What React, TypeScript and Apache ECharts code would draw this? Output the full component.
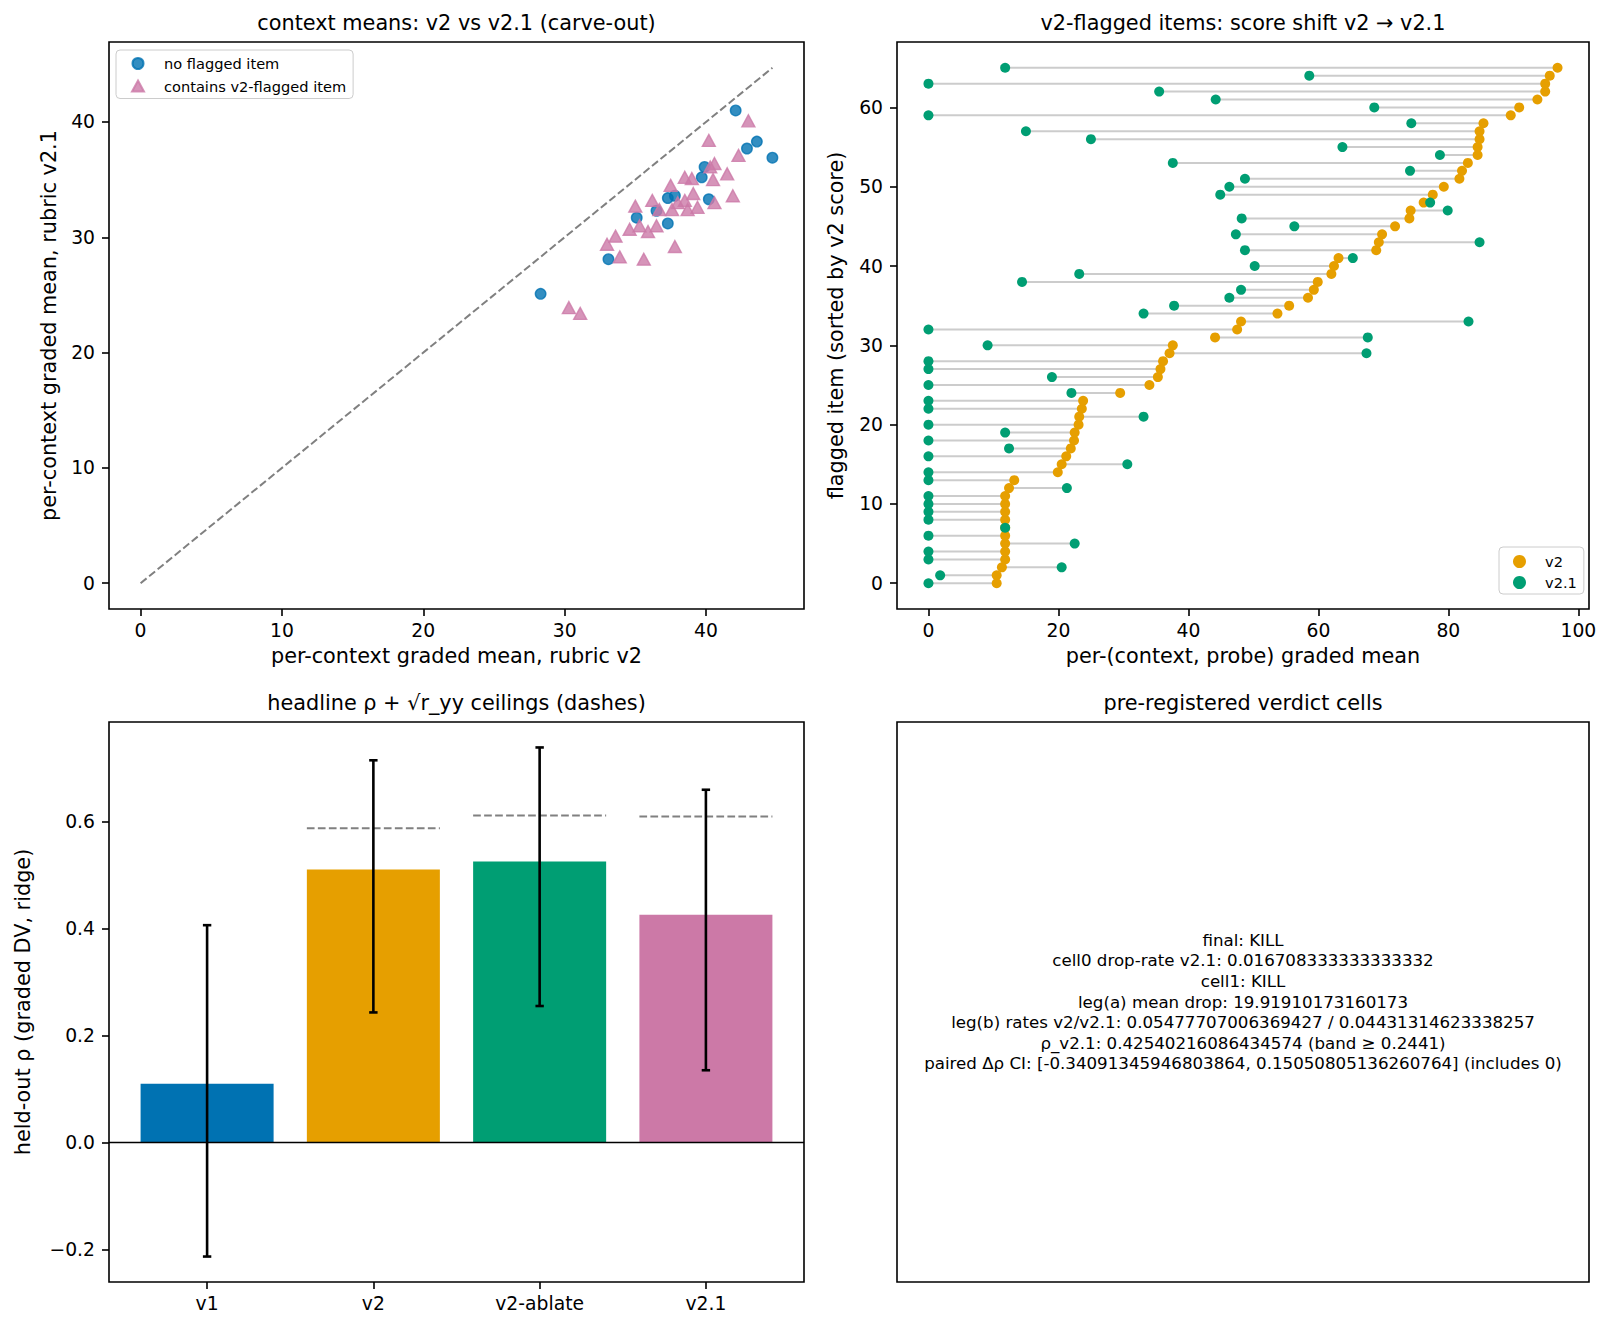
import React, { useEffect, useRef } from 'react';
import * as echarts from 'echarts';

const FONT = 'DejaVu Sans';
const BLUE = '#0072B2';
const ORANGE = '#E69F00';
const GREEN = '#009E73';
const PINK = '#CC79A7';

// context means: [rubric v2, rubric v2.1]
const noFlaggedPairs: number[][] = [
  [42.1, 41.0], [43.6, 38.3], [42.9, 37.7], [44.7, 36.9], [39.9, 36.1],
  [39.7, 35.2], [37.3, 33.4], [37.8, 33.6], [40.2, 33.3], [36.5, 32.3],
  [35.1, 31.7], [37.3, 31.2], [33.1, 28.1], [28.3, 25.1],
];
const flaggedPairs: number[][] = [
  [43.0, 40.1], [40.2, 38.4], [40.6, 36.4], [40.3, 36.1], [42.3, 37.1],
  [41.5, 35.5], [40.5, 35.0], [38.5, 35.2], [39.0, 35.1], [37.5, 34.5],
  [39.1, 33.8], [41.9, 33.6], [36.2, 33.2], [35.0, 32.7], [38.5, 33.2],
  [38.0, 33.0], [40.6, 33.0], [39.4, 32.6], [38.7, 32.4], [37.6, 32.4],
  [36.7, 32.4], [34.6, 30.7], [35.3, 31.0], [36.5, 31.0], [35.9, 30.5],
  [33.6, 30.1], [33.0, 29.4], [37.8, 29.2], [33.9, 28.3], [35.6, 28.1],
  [30.3, 23.9], [31.1, 23.4],
];

// flagged items, sorted by v2 score
const flaggedV2: number[] = [
  10.5, 10.5, 11.3, 11.8, 11.8, 11.8, 11.8, 11.8, 11.8, 11.8,
  11.8, 11.8, 12.4, 13.2, 19.9, 20.5, 21.2, 21.9, 22.4, 22.5,
  23.1, 23.2, 23.6, 23.8, 29.5, 34.0, 35.3, 35.7, 36.1, 37.1,
  37.6, 44.1, 47.5, 48.1, 53.7, 55.5, 58.4, 59.3, 59.9, 62.0,
  62.4, 63.1, 68.9, 69.3, 69.8, 71.8, 74.0, 74.2, 76.2, 77.6,
  79.3, 81.7, 82.1, 83.0, 84.5, 84.5, 84.8, 84.8, 85.4, 89.6,
  90.9, 93.7, 94.9, 94.9, 95.6, 96.8,
];
const flaggedV21: number[] = [
  0, 1.8, 20.5, 0, 0, 22.5, 0, 11.8, 0, 0,
  0, 0, 21.3, 0, 0, 30.6, 0, 12.4, 0, 11.8,
  0, 33.1, 0, 0, 22.0, 0, 19.0, 0, 0, 67.4,
  9.1, 67.6, 0, 83.1, 33.1, 37.8, 46.3, 48.1, 14.4, 23.2,
  50.2, 65.3, 48.7, 84.8, 47.3, 56.3, 48.2, 79.9, 77.2, 44.9,
  46.3, 48.7, 74.1, 37.6, 78.7, 63.7, 25.0, 15.0, 74.3, 0,
  68.6, 44.2, 35.5, 0, 58.6, 11.8,
];

// headline held-out rho per rubric
const rubricLabels = ['v1', 'v2', 'v2-ablate', 'v2.1'];
const rubricColors = [BLUE, ORANGE, GREEN, PINK];
const heldOutRho = [0.110, 0.510, 0.525, 0.4254];
const rhoLow = [-0.213, 0.243, 0.255, 0.135];
const rhoHigh = [0.406, 0.714, 0.738, 0.659];
const rhoCeiling: (number | null)[] = [null, 0.587, 0.611, 0.609];

const verdictLines = [
  'final: KILL',
  'cell0 drop-rate v2.1: 0.016708333333333332',
  'cell1: KILL',
  'leg(a) mean drop: 19.91910173160173',
  'leg(b) rates v2/v2.1: 0.05477707006369427 / 0.04431314623338257',
  'ρ_v2.1: 0.42540216086434574 (band ≥ 0.2441)',
  'paired Δρ CI: [-0.34091345946803864, 0.15050805136260764] (includes 0)',
];

const scatterTicks = [0, 10, 20, 30, 40];
const shiftXTicks = [0, 20, 40, 60, 80, 100];
const shiftYTicks = [0, 10, 20, 30, 40, 50, 60];
const rhoTicks = [-0.2, 0, 0.2, 0.4, 0.6];

// panel rectangles in page pixels
const PANELS = [
  { left: 109, top: 42, width: 695, height: 567 },
  { left: 897, top: 42, width: 692, height: 567 },
  { left: 109, top: 722, width: 695, height: 560 },
  { left: 897, top: 722, width: 692, height: 560 },
];

const TITLE_SIZE = 20.8;
const LABEL_SIZE = 20.8;
const TICK_SIZE = 18.75;
const LEGEND_SIZE = 14.6;
const NOTE_SIZE = 16.67;

function padded(lo: number, hi: number): [number, number] {
  const m = 0.05 * (hi - lo);
  return [lo - m, hi + m];
}

function valueAxis(
  gridIndex: number,
  range: [number, number],
  ticks: number[],
  fmt: (v: number) => string,
  isX: boolean,
  name?: string,
  nameGap?: number,
) {
  return {
    type: 'value',
    gridIndex,
    min: range[0],
    max: range[1],
    splitLine: { show: false },
    axisLine: { show: false, onZero: false },
    axisTick: {
      show: true,
      customValues: ticks,
      length: 7,
      lineStyle: { color: '#000', width: 1.6 },
    },
    axisLabel: {
      customValues: ticks,
      formatter: fmt,
      fontSize: TICK_SIZE,
      fontFamily: FONT,
      color: '#000',
      margin: isX ? 12 : 14,
    },
    name,
    nameLocation: 'middle',
    nameGap,
    nameTextStyle: { fontSize: LABEL_SIZE, fontFamily: FONT, color: '#000' },
  };
}

function centeredText(text: string, x: number, y: number, size: number, lineHeight?: number) {
  return {
    type: 'text',
    x,
    y,
    silent: true,
    style: {
      text,
      fill: '#000',
      fontSize: size,
      fontFamily: FONT,
      lineHeight: lineHeight ?? size * 1.2,
      align: 'center',
      verticalAlign: 'middle',
      textAlign: 'center',
      textVerticalAlign: 'middle',
    },
  };
}

export default function App() {
  const ref = useRef<HTMLDivElement>(null);

  useEffect(() => {
    if (!ref.current) return;
    const chart = echarts.init(ref.current, undefined, { renderer: 'svg' });

    const scatterVals = [...noFlaggedPairs, ...flaggedPairs].flat();
    const diagMax = Math.max(...scatterVals);
    const scatterRange = padded(0, diagMax);

    const allShift = [...flaggedV2, ...flaggedV21];
    const shiftXRange = padded(Math.min(...allShift), Math.max(...allShift));
    const shiftYRange = padded(0, flaggedV2.length - 1);

    const ceilVals = rhoCeiling.filter((c): c is number => c !== null);
    const rhoRange = padded(Math.min(0, ...rhoLow), Math.max(...rhoHigh, ...ceilVals));
    const catRange = padded(-0.4, rubricLabels.length - 1 + 0.4);

    const intFmt = (v: number) => String(v);
    const rhoFmt = (v: number) => (v < -1e-9 ? '\u2212' : '') + Math.abs(v).toFixed(1);

    const option: any = {
      animation: false,
      backgroundColor: '#fff',
      grid: PANELS.map((p) => ({
        ...p,
        show: true,
        borderColor: '#000',
        borderWidth: 1.6,
        backgroundColor: 'transparent',
        containLabel: false,
      })),
      xAxis: [
        valueAxis(0, scatterRange, scatterTicks, intFmt, true, 'per-context graded mean, rubric v2', 36),
        valueAxis(1, shiftXRange, shiftXTicks, intFmt, true, 'per-(context, probe) graded mean', 36),
        valueAxis(2, catRange, [0, 1, 2, 3], (v: number) => rubricLabels[Math.round(v)], true),
        { type: 'value', gridIndex: 3, show: false, min: 0, max: 1 },
      ],
      yAxis: [
        valueAxis(0, scatterRange, scatterTicks, intFmt, false, 'per-context graded mean, rubric v2.1', 50),
        valueAxis(1, shiftYRange, shiftYTicks, intFmt, false, 'flagged item (sorted by v2 score)', 51),
        valueAxis(2, rhoRange, rhoTicks, rhoFmt, false, 'held-out ρ (graded DV, ridge)', 76),
        { type: 'value', gridIndex: 3, show: false, min: 0, max: 1 },
      ],
      legend: [
        {
          data: [
            { name: 'no flagged item', icon: 'circle' },
            { name: 'contains v2-flagged item', icon: 'triangle' },
          ],
          orient: 'vertical',
          left: 116,
          top: 50,
          padding: [5, 7, 4, 15],
          itemWidth: 12,
          itemHeight: 11,
          itemGap: 5.5,
          selectedMode: false,
          borderColor: '#cccccc',
          borderWidth: 1,
          borderRadius: 4,
          backgroundColor: 'rgba(255,255,255,0.8)',
          textStyle: {
            fontSize: LEGEND_SIZE,
            fontFamily: FONT,
            color: '#000',
            lineHeight: 17,
            padding: [0, 0, 0, 15],
          },
        },
        {
          data: [
            { name: 'v2', icon: 'circle' },
            { name: 'v2.1', icon: 'circle' },
          ],
          orient: 'vertical',
          left: 1499,
          top: 547,
          padding: [6, 7, 3, 14],
          itemWidth: 13,
          itemHeight: 13,
          itemGap: 4,
          selectedMode: false,
          borderColor: '#cccccc',
          borderWidth: 1,
          borderRadius: 4,
          backgroundColor: 'rgba(255,255,255,0.8)',
          textStyle: {
            fontSize: LEGEND_SIZE,
            fontFamily: FONT,
            color: '#000',
            lineHeight: 17,
            padding: [0, 0, 0, 14],
          },
        },
      ],
      graphic: [
        centeredText('context means: v2 vs v2.1 (carve-out)', PANELS[0].left + PANELS[0].width / 2, 23, TITLE_SIZE),
        centeredText('v2-flagged items: score shift v2 → v2.1', PANELS[1].left + PANELS[1].width / 2, 23, TITLE_SIZE),
        centeredText('headline ρ + √r_yy ceilings (dashes)', PANELS[2].left + PANELS[2].width / 2, 703, TITLE_SIZE),
        centeredText('pre-registered verdict cells', PANELS[3].left + PANELS[3].width / 2, 703, TITLE_SIZE),
        centeredText(
          verdictLines.join('\n'),
          PANELS[3].left + PANELS[3].width / 2,
          PANELS[3].top + PANELS[3].height / 2,
          NOTE_SIZE,
          20.6,
        ),
      ],
      series: [
        // panel 1: identity line and the two context groups
        {
          type: 'line',
          xAxisIndex: 0,
          yAxisIndex: 0,
          data: [[0, 0], [diagMax, diagMax]],
          symbol: 'none',
          silent: true,
          lineStyle: { color: '#808080', width: 2, type: [7.7, 3.3] },
          z: 1,
        },
        {
          name: 'no flagged item',
          type: 'scatter',
          xAxisIndex: 0,
          yAxisIndex: 0,
          data: noFlaggedPairs,
          symbol: 'circle',
          symbolSize: 10.5,
          itemStyle: {
            color: 'rgba(0,114,178,0.8)',
            borderColor: 'rgba(0,114,178,0.8)',
            borderWidth: 1.4,
            opacity: 1,
          },
          z: 3,
        },
        {
          name: 'contains v2-flagged item',
          type: 'scatter',
          xAxisIndex: 0,
          yAxisIndex: 0,
          data: flaggedPairs,
          symbol: 'triangle',
          symbolSize: [13, 12],
          itemStyle: {
            color: 'rgba(204,121,167,0.8)',
            borderColor: 'rgba(204,121,167,0.8)',
            borderWidth: 1.4,
            opacity: 1,
          },
          z: 4,
        },
        // panel 2: connectors, then v2 and v2.1 dots
        {
          type: 'custom',
          xAxisIndex: 1,
          yAxisIndex: 1,
          silent: true,
          data: flaggedV2.map((v, i) => [v, flaggedV21[i], i]),
          encode: { x: [0, 1], y: 2 },
          renderItem: (_params: any, api: any) => {
            const a = api.coord([api.value(0), api.value(2)]);
            const b = api.coord([api.value(1), api.value(2)]);
            return {
              type: 'line',
              shape: { x1: a[0], y1: a[1], x2: b[0], y2: b[1] },
              style: { stroke: '#cccccc', lineWidth: 2 },
            };
          },
          z: 1,
        },
        {
          name: 'v2',
          type: 'scatter',
          xAxisIndex: 1,
          yAxisIndex: 1,
          data: flaggedV2.map((v, i) => [v, i]),
          symbol: 'circle',
          symbolSize: 10,
          itemStyle: { color: ORANGE, opacity: 1 },
          z: 3,
        },
        {
          name: 'v2.1',
          type: 'scatter',
          xAxisIndex: 1,
          yAxisIndex: 1,
          data: flaggedV21.map((v, i) => [v, i]),
          symbol: 'circle',
          symbolSize: 10,
          itemStyle: { color: GREEN, opacity: 1 },
          z: 4,
        },
        // panel 3: bars, zero line, intervals, ceilings
        {
          type: 'custom',
          xAxisIndex: 2,
          yAxisIndex: 2,
          silent: true,
          data: heldOutRho.map((v, i) => [i, v]),
          renderItem: (_params: any, api: any) => {
            const i = api.value(0);
            const v = api.value(1);
            const p0 = api.coord([i - 0.4, 0]);
            const p1 = api.coord([i + 0.4, v]);
            return {
              type: 'rect',
              shape: {
                x: p0[0],
                y: Math.min(p0[1], p1[1]),
                width: p1[0] - p0[0],
                height: Math.abs(p1[1] - p0[1]),
              },
              style: { fill: rubricColors[i] },
            };
          },
          z: 1,
        },
        {
          type: 'line',
          xAxisIndex: 2,
          yAxisIndex: 2,
          silent: true,
          data: [[catRange[0], 0], [catRange[1], 0]],
          symbol: 'none',
          lineStyle: { color: '#000', width: 1.6 },
          z: 2,
        },
        {
          type: 'custom',
          xAxisIndex: 2,
          yAxisIndex: 2,
          silent: true,
          data: heldOutRho.map((_v, i) => [i, rhoLow[i], rhoHigh[i]]),
          renderItem: (_params: any, api: any) => {
            const i = api.value(0);
            const lo = api.coord([i, api.value(1)]);
            const hi = api.coord([i, api.value(2)]);
            const cap = 4.2;
            const stroke = { stroke: '#000', lineWidth: 2.6 };
            return {
              type: 'group',
              children: [
                { type: 'line', shape: { x1: lo[0], y1: lo[1], x2: hi[0], y2: hi[1] }, style: stroke },
                { type: 'line', shape: { x1: lo[0] - cap, y1: lo[1], x2: lo[0] + cap, y2: lo[1] }, style: stroke },
                { type: 'line', shape: { x1: hi[0] - cap, y1: hi[1], x2: hi[0] + cap, y2: hi[1] }, style: stroke },
              ],
            };
          },
          z: 4,
        },
        {
          type: 'custom',
          xAxisIndex: 2,
          yAxisIndex: 2,
          silent: true,
          data: rhoCeiling
            .map((c, i) => (c === null ? null : [i, c]))
            .filter((d) => d !== null),
          renderItem: (_params: any, api: any) => {
            const i = api.value(0);
            const c = api.value(1);
            const a = api.coord([i - 0.4, c]);
            const b = api.coord([i + 0.4, c]);
            return {
              type: 'line',
              shape: { x1: a[0], y1: a[1], x2: b[0], y2: b[1] },
              style: { stroke: '#808080', lineWidth: 2, lineDash: [7.7, 3.3] },
            };
          },
          z: 3,
        },
      ],
    };

    chart.setOption(option);
    return () => chart.dispose();
  }, []);

  return (
    <div
      ref={ref}
      style={{ position: 'absolute', left: 0, top: 0, width: 1615, height: 1333, background: '#fff' }}
    />
  );
}
